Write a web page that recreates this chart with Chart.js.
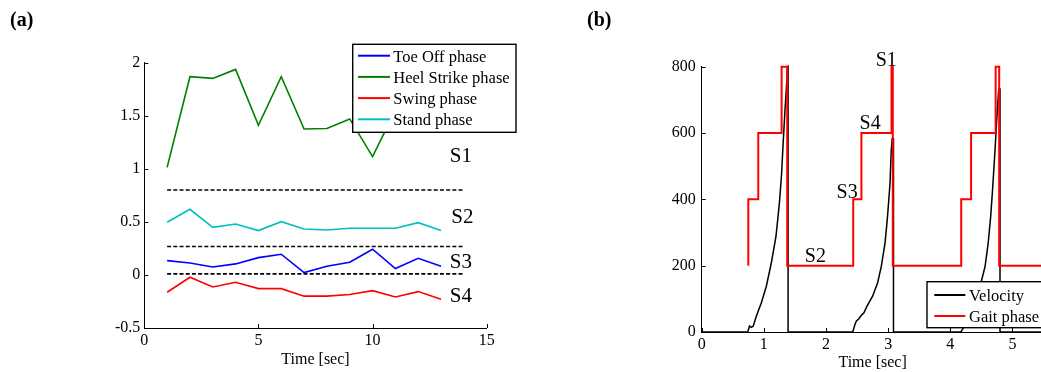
<!DOCTYPE html>
<html>
<head>
<meta charset="utf-8">
<script src="https://cdn.jsdelivr.net/npm/chart.js@4"></script>
<style>
  html, body { margin: 0; padding: 0; background: #fff; overflow: hidden; width: 1041px; height: 372px; }
  canvas { position: absolute; top: 0; }
  .tag { position: absolute; top: 9px; font: bold 20px "Liberation Serif", serif; line-height: 20px; }
</style>
</head>
<body>
<canvas id="chart-a" width="525" height="372" style="left:0"></canvas>
<canvas id="chart-b" width="515" height="372" style="left:530px"></canvas>
<div class="tag" style="left:10px">(a)</div>
<div class="tag" style="left:587px">(b)</div>
<script>
const FONT = "'Liberation Serif', 'Times New Roman', serif";

// panel (a): per-step phase scores
const stepTimes = [1, 2, 3, 4, 5, 6, 7, 8, 9, 10, 11, 12, 13];
const toeOff = [0.135, 0.113, 0.075, 0.104, 0.163, 0.195, 0.022, 0.082, 0.119, 0.242, 0.06, 0.157, 0.082];
const heelStrike = [1.014, 1.868, 1.852, 1.937, 1.41, 1.868, 1.375, 1.38, 1.47, 1.115, 1.55, 1.62, 1.52];
const swing = [-0.163, -0.022, -0.113, -0.069, -0.129, -0.129, -0.2, -0.2, -0.185, -0.148, -0.207, -0.157, -0.229];
const stand = [0.496, 0.619, 0.449, 0.48, 0.418, 0.502, 0.433, 0.424, 0.44, 0.44, 0.44, 0.493, 0.418];
const thresholdLevels = [0.8, 0.268, 0.01];
const thresholdSpan = [1, 14];
const stateNamesA = ["S1", "S2", "S3", "S4"];
const stateYA = [1.12, 0.54, 0.12, -0.2];
const stateXA = [13.38, 13.45, 13.38, 13.38];
const ticksAX = [0, 5, 10, 15];
const ticksAY = [-0.5, 0, 0.5, 1, 1.5, 2];

// panel (b): velocity and detected gait phase
const gaitTimes = [0.75, 0.75, 0.91, 1.286, 1.376, 2.438, 2.57, 3.055, 3.075, 4.176, 4.335, 4.73, 4.787, 5.5];
const gaitPhase = [200, 400, 600, 800, 200, 400, 600, 800, 200, 400, 600, 800, 200, 200];
const velTimes = [0, 0.74, 0.77, 0.80, 0.83, 0.88, 0.96, 1.04, 1.12, 1.195, 1.25, 1.286, 1.31, 1.34, 1.37, 1.38, 1.39, 1.39,
  2.43, 2.47, 2.49, 2.53, 2.56, 2.61, 2.66, 2.75, 2.83, 2.89, 2.95, 2.99, 3.03, 3.05, 3.065, 3.086, 3.086,
  4.17, 4.22, 4.3, 4.4, 4.5, 4.56, 4.61, 4.65, 4.68, 4.72, 4.75, 4.78, 4.80, 4.80, 5.5];
const velocity = [0, 0, 18, 14, 18, 48, 88, 138, 208, 288, 388, 478, 568, 668, 758, 798, 800, 0,
  0, 25, 33, 40, 48, 58, 78, 108, 148, 198, 268, 348, 448, 548, 583, 583, 0,
  0, 15, 50, 100, 153, 198, 268, 348, 428, 548, 648, 733, 733, 0, 0];
const stateNamesB = ["S1", "S2", "S3", "S4"];
const stateXB = [2.80, 1.66, 2.17, 2.54];
const stateYB = [818, 227, 419, 627];
const ticksBX = [0, 1, 2, 3, 4, 5];
const ticksBY = [0, 200, 400, 600, 800];

const pts = (xs, ys) => xs.map((x, i) => ({ x, y: ys[i] }));

// matlab style ticks pointing into the axes
const innerTicks = {
  id: "innerTicks",
  afterDraw(chart) {
    const { ctx, chartArea: a, scales } = chart;
    ctx.save();
    ctx.strokeStyle = "#000";
    ctx.lineWidth = 1;
    ctx.beginPath();
    scales.x.ticks.forEach((t) => {
      const px = Math.round(scales.x.getPixelForValue(t.value)) + 0.5;
      ctx.moveTo(px, a.bottom);
      ctx.lineTo(px, a.bottom - 4);
    });
    scales.y.ticks.forEach((t) => {
      const py = Math.round(scales.y.getPixelForValue(t.value)) + 0.5;
      ctx.moveTo(a.left, py);
      ctx.lineTo(a.left + 4, py);
    });
    ctx.stroke();
    ctx.restore();
  },
};

// legend box drawn on top of the data
const boxLegend = {
  id: "boxLegend",
  afterDraw(chart, args, o) {
    const ctx = chart.ctx;
    const items = chart.data.datasets.filter((d) => d.inLegend);
    ctx.save();
    ctx.fillStyle = "#fff";
    ctx.fillRect(o.x, o.y, o.w, o.h);
    ctx.strokeStyle = "#000";
    ctx.lineWidth = 1.4;
    ctx.strokeRect(o.x, o.y, o.w, o.h);
    ctx.font = "16.5px " + FONT;
    ctx.textBaseline = "alphabetic";
    items.forEach((d, i) => {
      const y = o.y + o.first + i * o.step;
      ctx.strokeStyle = d.borderColor;
      ctx.lineWidth = 2;
      ctx.beginPath();
      ctx.moveTo(o.x + o.lineStart, y);
      ctx.lineTo(o.x + o.lineStart + o.lineLen, y);
      ctx.stroke();
      ctx.fillStyle = "#000";
      ctx.fillText(d.label, o.x + o.textStart, y + 5.8);
    });
    ctx.restore();
  },
};

// S1..S4 annotations
const stateText = {
  id: "stateText",
  afterDatasetsDraw(chart, args, o) {
    const { ctx, scales } = chart;
    ctx.save();
    ctx.font = o.size + "px " + FONT;
    ctx.fillStyle = "#000";
    ctx.textAlign = "left";
    ctx.textBaseline = "middle";
    o.names.forEach((n, i) => {
      ctx.fillText(n, scales.x.getPixelForValue(o.xs[i]), scales.y.getPixelForValue(o.ys[i]));
    });
    ctx.restore();
  },
};

function axis(min, max, tickList, fit, pad, title, titlePad) {
  const s = {
    type: "linear",
    min,
    max,
    afterBuildTicks: (sc) => { sc.ticks = tickList.map((v) => ({ value: v })); },
    afterFit: fit,
    grid: { display: false, drawTicks: false },
    border: { display: true, color: "#000", width: 1 },
    ticks: { color: "#000", font: { family: FONT, size: 16 }, padding: pad, maxRotation: 0, callback: (v) => String(v) },
  };
  if (title) s.title = { display: true, text: title, color: "#000", font: { family: FONT, size: 16 }, padding: { top: 0, bottom: titlePad } };
  return s;
}

const line = (label, xs, ys, color, width, extra) => Object.assign({
  label, data: pts(xs, ys), borderColor: color, backgroundColor: color,
  borderWidth: width, showLine: true, pointRadius: 0, tension: 0, fill: false,
}, extra || {});

const datasetsA = [
  line("Toe Off phase", stepTimes, toeOff, "#0000ff", 1.6, { inLegend: true }),
  line("Heel Strike phase", stepTimes, heelStrike, "#008000", 1.6, { inLegend: true }),
  line("Swing phase", stepTimes, swing, "#ff0000", 1.6, { inLegend: true }),
  line("Stand phase", stepTimes, stand, "#00bfbf", 1.6, { inLegend: true }),
];
thresholdLevels.forEach((lv) => {
  datasetsA.push(line("threshold", thresholdSpan, thresholdSpan.map(() => lv), "#000", 1.6, { borderDash: [4, 2.2] }));
});

new Chart(document.getElementById("chart-a"), {
  type: "scatter",
  data: { datasets: datasetsA },
  options: {
    responsive: false,
    animation: false,
    layout: { padding: { left: 0, top: 62.7, right: 38.3, bottom: 0 } },
    plugins: {
      legend: { display: false },
      tooltip: { enabled: false },
      boxLegend: { x: 352.7, y: 44.3, w: 163.3, h: 88, first: 11.4, step: 21.2, lineStart: 5.3, lineLen: 32, textStart: 40.6 },
      stateText: { names: stateNamesA, xs: stateXA, ys: stateYA, size: 21 },
    },
    scales: {
      x: axis(0, 15, ticksAX, (s) => { s.height = 44; }, 3, "Time [sec]", 3),
      y: axis(-0.5, 2, ticksAY, (s) => { s.width = 144.3; }, 4),
    },
  },
  plugins: [innerTicks, stateText, boxLegend],
});

new Chart(document.getElementById("chart-b"), {
  type: "scatter",
  data: {
    datasets: [
      line("Velocity", velTimes, velocity, "#000", 1.5, { inLegend: true, order: 1, clip: false }),
      line("Gait phase", gaitTimes, gaitPhase, "#ff0000", 2, { inLegend: true, order: 0, stepped: "before", clip: false }),
    ],
  },
  options: {
    responsive: false,
    animation: false,
    layout: { padding: { left: 0, top: 66.7, right: 1.5, bottom: 0 } },
    plugins: {
      legend: { display: false },
      tooltip: { enabled: false },
      boxLegend: { x: 397, y: 281.7, w: 120, h: 46, first: 13.3, step: 21, lineStart: 7.3, lineLen: 31, textStart: 42 },
      stateText: { names: stateNamesB, xs: stateXB, ys: stateYB, size: 20 },
    },
    scales: {
      x: axis(0, 5.5, ticksBX, (s) => { s.height = 40; }, 3, "Time [sec]", 0),
      y: axis(0, 800, ticksBY, (s) => { s.width = 171.7; }, 6),
    },
  },
  plugins: [innerTicks, stateText, boxLegend],
});
</script>
</body>
</html>
